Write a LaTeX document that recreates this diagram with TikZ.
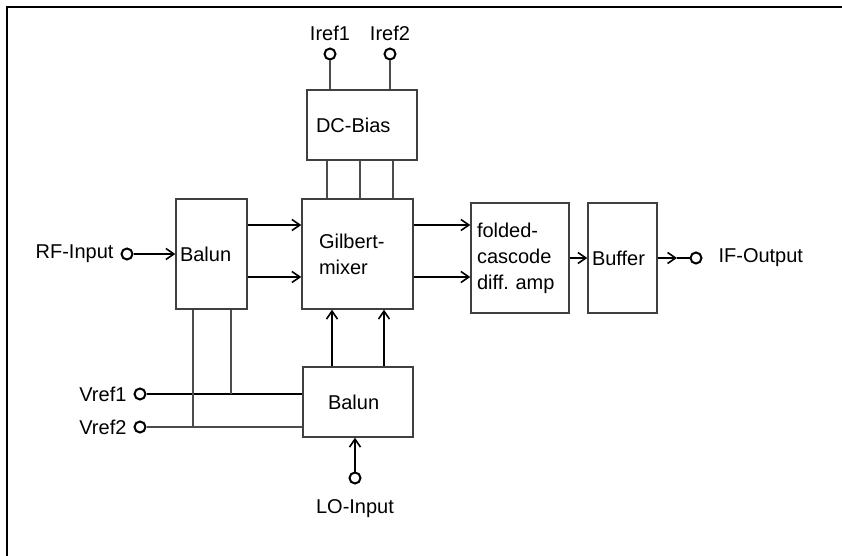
\documentclass[tikz,border=0pt]{standalone}
\usepackage{fontspec}
\setmainfont{Liberation Sans}
\usetikzlibrary{arrows.meta}
\frenchspacing
\begin{document}
\begin{tikzpicture}[x=0.5pt,y=-0.5pt,font=\fontsize{10}{13}\selectfont,
  block/.style={draw=black!75,line width=0.7pt,align=left,inner ysep=0pt},
  port/.style={circle,draw,line width=1pt,inner sep=0pt,minimum size=5.5pt},
  sig/.style={-{Straight Barb[length=4pt,width=5.5pt,line width=0.8pt]},line width=0.6pt},
  wire/.style={draw=black!70,line width=0.6pt}]
  \useasboundingbox (0,0) rectangle (842,556);
  \draw[line width=1.1pt] (7,556)--(7,7)--(842,7);
  \node[block,text width=31.5pt,inner xsep=2pt,minimum height=55pt] (rfbal) at (211.5,254) {Balun};
  \node[block,text width=38.5pt,inner xsep=8.5pt,minimum height=55pt] (mixer) at (357.5,254) {Gilbert-\\mixer};
  \node[block,text width=46pt,inner xsep=4.5pt,minimum height=35pt] (dcbias) at (362,125) {DC-Bias};
  \node[block,text width=43pt,inner xsep=3pt,minimum height=55pt] (folded) at (520,258) {folded-\\cascode\\diff. amp};
  \node[block,text width=30.5pt,inner xsep=2pt,minimum height=55pt] (buffer) at (622.5,258) {Buffer};
  \node[block,text width=30pt,inner xsep=12.5pt,minimum height=35pt] (lobal) at (358,402) {Balun};
  \node[port,label={left:RF-Input}] (rfin) at (127,254) {};
  \node[port,label={above:Iref1}] (iref1) at (330,54) {};
  \node[port,label={above:Iref2}] (iref2) at (390,54) {};
  \node[port,label={[label distance=4.5pt]right:IF-Output}] (ifo) at (696,258) {};
  \node[port,label={[label distance=4pt]below:LO-Input}] (lo) at (355,478) {};
  \node[port,label={left:Vref1}] (vref1) at (140,394) {};
  \node[port,label={left:Vref2}] (vref2) at (140,427) {};
  \coordinate (iftip) at (677,258);
  \draw[sig] (rfin) -- (rfbal.west);
  \foreach \dy in {14.5,-11.5} {
    \draw[sig] ([yshift=\dy pt]rfbal.east) -- ([yshift=\dy pt]rfbal.east -| mixer.west);
    \draw[sig] ([yshift=\dy pt]mixer.east) -- ([yshift=\dy pt]mixer.east -| folded.west);
  }
  \draw[sig] (folded.east) -- (buffer.west);
  \draw[sig] (buffer.east) -- (iftip);
  \draw[line width=0.6pt] (iftip) -- (ifo);
  \draw[wire] (iref1) -- (iref1 |- dcbias.north);
  \draw[wire] (iref2) -- (iref2 |- dcbias.north);
  \foreach \dx in {-17.5,-1,15.5}
    \draw[wire] ([xshift=\dx pt]dcbias.south) -- ([xshift=\dx pt]dcbias.south |- mixer.north);
  \foreach \dx in {-13,13}
    \draw[sig] ([xshift=\dx pt]lobal.north) -- ([xshift=\dx pt]lobal.north |- mixer.south);
  \draw[sig] (lo) -- (lo |- lobal.south);
  \draw[line width=0.6pt] (vref1) -- (vref1 -| lobal.west);
  \draw[wire] (vref2) -- (vref2 -| lobal.west);
  \draw[wire] ([xshift=-9.25pt]rfbal.south) -- ([xshift=-9.25pt]rfbal.south |- vref2);
  \draw[wire] ([xshift=9.75pt]rfbal.south) -- ([xshift=9.75pt]rfbal.south |- vref1);
\end{tikzpicture}
\end{document}
